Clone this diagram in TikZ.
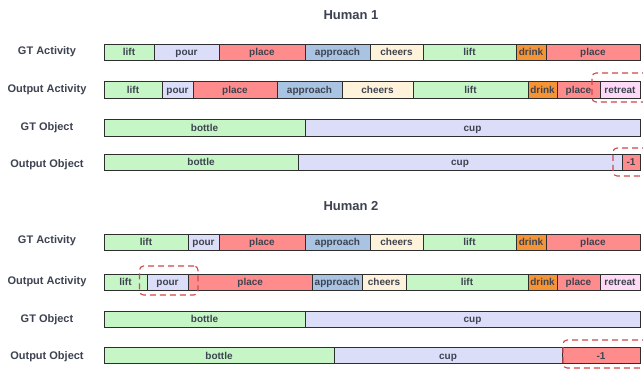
\documentclass[tikz,border=0pt]{standalone}
\usepackage{fontspec}
\setmainfont{Liberation Sans}
\usetikzlibrary{positioning}

\definecolor{txt}{HTML}{3D4350}
\definecolor{edge}{HTML}{2E2E2E}
\definecolor{cLift}{HTML}{C6F5C6}
\definecolor{cPour}{HTML}{DCDDF8}
\definecolor{cPlace}{HTML}{FF8C8C}
\definecolor{cAppr}{HTML}{A9C4E3}
\definecolor{cCheer}{HTML}{FFF2DA}
\definecolor{cDrink}{HTML}{F59434}
\definecolor{cRetr}{HTML}{FFDAF6}
\definecolor{hlred}{HTML}{D04848}

\tikzset{
  seg/.style={draw=edge, line width=0.9pt, rectangle, inner sep=0pt,
    text height=8pt, text depth=1pt,
    font=\fontsize{10}{12}\selectfont\bfseries, text=txt},
  rowlabel/.style={font=\fontsize{11}{13}\selectfont\bfseries, text=txt, inner sep=0pt,
    text height=8pt, text depth=2.4pt},
  title/.style={font=\fontsize{13}{15}\selectfont\bfseries, text=txt, inner sep=0pt,
    text height=9.5pt, text depth=0pt},
  hlbox/.style={draw=hlred, line width=1.1pt, dash pattern=on 6pt off 4pt,
    rounded corners=4pt, rectangle, inner sep=0pt}
}

% one row of timeline segments: #1 name prefix, #2 top, #3 bottom, #4 list start/end/text/colour
\newcommand{\segrow}[4]{%
  \foreach \a/\b/\t/\c [count=\i] in {#4} {
    \node[seg, fill=\c, minimum width={(\b-\a)*1pt}, minimum height={(#3-#2)*1pt}]
      (#1-\i) at ({(\a+\b)/2},{(#2+#3)/2}) {\t};
  }%
}

\begin{document}
\begin{tikzpicture}[x=1pt,y=-1pt]
\useasboundingbox[fill=white] (0,0) rectangle (643,370);

% ---------------- Human 1 ----------------
\node[title] (t1) at (351,15) {Human 1};

\node[rowlabel] (l1a) at (47,51.5) {GT Activity};
\segrow{ga1}{44}{60}{104/154/lift/cLift, 154/219/pour/cPour, 219/305/place/cPlace,
  305/370/approach/cAppr, 370/423/cheers/cCheer, 423/516/lift/cLift,
  516/546/drink/cDrink, 546/640/place/cPlace}

\node[rowlabel] (l1b) at (47,90) {Output Activity};
\segrow{oa1}{81.5}{98}{104/162/lift/cLift, 162/193/pour/cPour, 193/277/place/cPlace,
  277/342/approach/cAppr, 342/413/cheers/cCheer, 413/528/lift/cLift,
  528/557/drink/cDrink, 557/600/place/cPlace, 600/640/retreat/cRetr}

\node[rowlabel] (l1c) at (47,127.5) {GT Object};
\segrow{go1}{119.5}{136}{104/305/bottle/cLift, 305/640/cup/cPour}

\node[rowlabel] (l1d) at (47,164.5) {Output Object};
\segrow{oo1}{154}{170.5}{104/298/bottle/cLift, 298/622/cup/cPour, 622/640/-1/cPlace}

\node[hlbox, minimum width=60pt, minimum height=29pt] (hl1) at (622,87.5) {};
\node[hlbox, minimum width=39pt, minimum height=28pt] (hl2) at (632.5,162) {};

% ---------------- Human 2 ----------------
\node[title] (t2) at (351,206) {Human 2};

\node[rowlabel] (l2a) at (47,241) {GT Activity};
\segrow{ga2}{234}{250}{104/188/lift/cLift, 188/219/pour/cPour, 219/305/place/cPlace,
  305/370/approach/cAppr, 370/423/cheers/cCheer, 423/516/lift/cLift,
  516/546/drink/cDrink, 546/640/place/cPlace}

\node[rowlabel] (l2b) at (47,282) {Output Activity};
\segrow{oa2}{274}{290.5}{104/147/lift/cLift, 147/188/pour/cPour, 188/312.5/place/cPlace,
  312.5/362/approach/cAppr, 362/406/cheers/cCheer, 406/528/lift/cLift,
  528/557/drink/cDrink, 557/600/place/cPlace, 600/640/retreat/cRetr}

\node[rowlabel] (l2c) at (47,319.5) {GT Object};
\segrow{go2}{311}{327}{104/305/bottle/cLift, 305/640/cup/cPour}

\node[rowlabel] (l2d) at (47,356.5) {Output Object};
\segrow{oo2}{347.5}{363.5}{104/334/bottle/cLift, 334/562/cup/cPour, 562/640/-1/cPlace}

\node[hlbox, minimum width=58.5pt, minimum height=29pt] (hl3) at (168.75,280.5) {};
\node[hlbox, minimum width=89pt, minimum height=28pt] (hl4) at (607.5,354) {};
\end{tikzpicture}
\end{document}
